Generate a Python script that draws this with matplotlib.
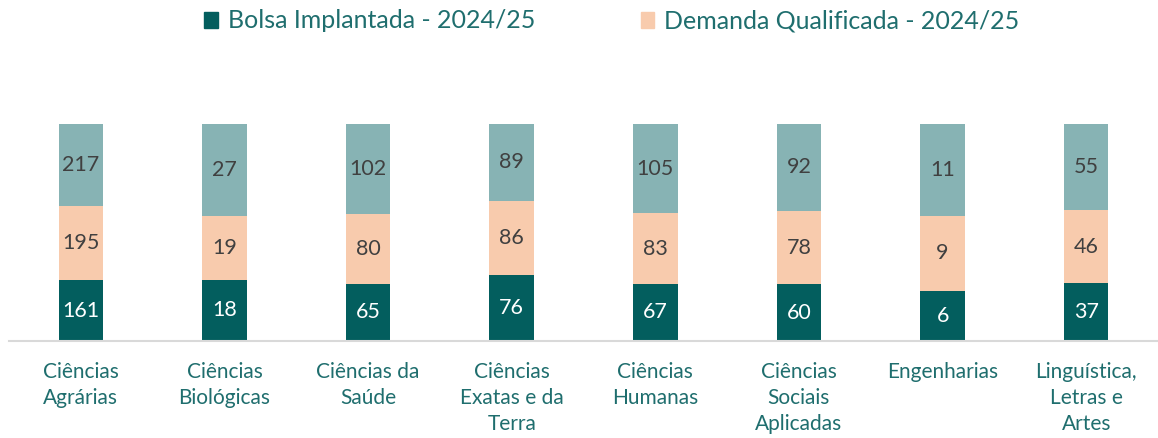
import numpy as np
import matplotlib.pyplot as plt
from matplotlib.patches import Patch

categories = ["Ciências\nAgrárias", "Ciências\nBiológicas", "Ciências da\nSaúde",
              "Ciências\nExatas e da\nTerra", "Ciências\nHumanas", "Ciências\nSociais\nAplicadas",
              "Engenharias", "Linguística,\nLetras e\nArtes"]
bolsa = [161, 18, 65, 76, 67, 60, 6, 37]
demanda = [195, 19, 80, 86, 83, 78, 9, 46]
restante = [217, 27, 102, 89, 105, 92, 11, 55]

series_names = ["Bolsa Implantada - 2024/25", "Demanda Qualificada - 2024/25"]

c_dark = "#035E5E"
c_peach = "#F8CBAD"
c_light = "#87B3B4"
c_text = "#1F6E6E"

plt.rcParams['font.family'] = ['Lato', 'DejaVu Sans']

fig = plt.figure(figsize=(11.58, 4.38), dpi=100)
ax = fig.add_axes([9 / 1158, 1 - 341 / 438, 1 - 9 / 1158, 217 / 438])

b = np.array(bolsa, dtype=float)
d = np.array(demanda, dtype=float)
r = np.array(restante, dtype=float)
tot = b + d + r
x = np.arange(len(categories))
w = 0.31

layers = [(b, c_dark, "#FFFFFF"), (d, c_peach, "#404040"), (r, c_light, "#404040")]
bottom = np.zeros(len(categories))
for vals, col, tcol in layers:
    frac = vals / tot
    ax.bar(x, frac, w, bottom=bottom, color=col, edgecolor="none")
    for xi, bi, fi, v in zip(x, bottom, frac, vals):
        ax.text(xi, bi + fi / 2, f"{int(v)}", ha="center", va="center",
                fontsize=15.5, color=tcol)
    bottom = bottom + frac

ax.set_xlim(-0.5, len(categories) - 0.5)
ax.set_ylim(0, 1)
for s in ["top", "right", "left"]:
    ax.spines[s].set_visible(False)
ax.spines["bottom"].set_color("#D9D9D9")
ax.spines["bottom"].set_linewidth(1.5)
ax.set_yticks([])
ax.set_xticks(x)
ax.set_xticklabels(categories, fontsize=15, color=c_text, linespacing=1.38, va="top")
ax.tick_params(axis="x", length=0, pad=15)

handles = [Patch(color=c_dark), Patch(color=c_peach)]
fig.legend(handles, series_names, loc="center", ncol=2,
           bbox_to_anchor=(612 / 1158, 1 - 21 / 438), frameon=False,
           fontsize=18, labelcolor=c_text, handlelength=0.55, handleheight=0.6,
           handletextpad=0.4, columnspacing=4.2)

fig.savefig("out.png", dpi=100)
